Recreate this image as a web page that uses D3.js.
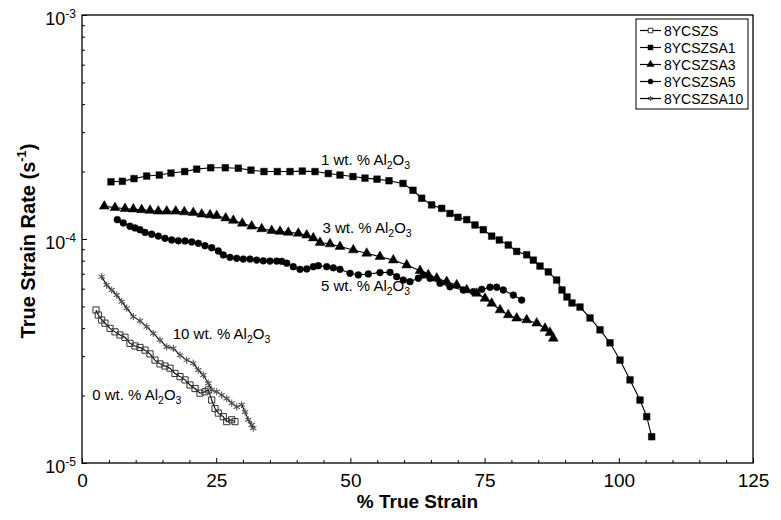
<!DOCTYPE html>
<html>
<head>
<meta charset="utf-8">
<script src="https://cdn.jsdelivr.net/npm/d3@7"></script>
<style>
  body { margin: 0; background: #fff; }
  svg { display: block; font-family: "Liberation Sans", Arial, sans-serif; }
</style>
</head>
<body>
<svg id="chart" width="781" height="520"></svg>
<script>
// ---- data (strain %, strain rate s^-1) ----
const seriesNames = ["8YCSZS", "8YCSZSA1", "8YCSZSA3", "8YCSZSA5", "8YCSZSA10"];

const zsStrain = [2.61,3.04,3.67,4.28,5.22,6.15,7.08,8.01,8.94,9.87,10.80,11.74,12.67,13.60,14.53,15.46,16.39,17.32,18.26,19.19,20.12,21.05,21.98,22.91,23.53,24.16,24.78,25.39,26.32,26.96,27.89,28.50];
const zsRate = [4.82e-5,4.58e-5,4.35e-5,4.21e-5,3.99e-5,3.85e-5,3.73e-5,3.64e-5,3.42e-5,3.33e-5,3.28e-5,3.19e-5,3.07e-5,2.88e-5,2.77e-5,2.71e-5,2.65e-5,2.51e-5,2.43e-5,2.35e-5,2.23e-5,2.15e-5,2.05e-5,2.08e-5,2.12e-5,1.91e-5,1.75e-5,1.67e-5,1.61e-5,1.53e-5,1.56e-5,1.53e-5];

const sa1Strain = [5.40,7.51,9.69,12.05,14.40,16.58,19.13,21.37,23.98,26.70,29.12,31.48,33.90,36.38,38.75,41.04,43.41,45.88,48.06,50.48,52.72,54.96,57.19,59.80,61.66,63.28,65.14,67.01,68.55,70.04,71.67,73.21,74.76,76.32,77.74,79.41,80.98,82.84,84.07,85.32,86.87,88.43,89.42,90.35,91.28,92.77,94.64,96.50,98.36,100.22,102.09,103.95,105.20,106.13];
const sa1Rate = [1.80e-4,1.81e-4,1.86e-4,1.91e-4,1.93e-4,1.97e-4,2.00e-4,2.05e-4,2.08e-4,2.08e-4,2.07e-4,2.03e-4,2.00e-4,2.00e-4,2.00e-4,2.01e-4,2.00e-4,1.96e-4,1.93e-4,1.90e-4,1.87e-4,1.85e-4,1.82e-4,1.77e-4,1.65e-4,1.52e-4,1.42e-4,1.37e-4,1.30e-4,1.25e-4,1.22e-4,1.155e-4,1.10e-4,1.03e-4,9.9e-5,9.4e-5,8.8e-5,8.5e-5,8.05e-5,7.57e-5,7.13e-5,6.56e-5,5.92e-5,5.51e-5,5.18e-5,4.97e-5,4.44e-5,3.93e-5,3.44e-5,2.88e-5,2.35e-5,1.91e-5,1.61e-5,1.31e-5];

const sa3Strain = [4.15,6.15,8.01,9.56,11.12,12.67,14.21,15.78,17.46,19.06,20.73,22.30,23.85,25.09,26.77,28.19,29.86,31.61,33.48,35.34,36.89,38.43,40.30,41.86,43.09,44.34,46.20,48.06,50.54,53.04,55.51,57.99,60.49,62.97,64.51,66.08,67.94,69.80,71.67,73.53,75.07,76.32,77.87,79.41,80.98,82.84,84.71,86.25,87.18,87.80];
const sa3Rate = [1.40e-4,1.38e-4,1.365e-4,1.36e-4,1.35e-4,1.34e-4,1.33e-4,1.33e-4,1.33e-4,1.32e-4,1.31e-4,1.29e-4,1.28e-4,1.27e-4,1.24e-4,1.21e-4,1.175e-4,1.14e-4,1.11e-4,1.09e-4,1.08e-4,1.07e-4,1.06e-4,1.04e-4,1.01e-4,9.64e-5,9.50e-5,9.25e-5,8.93e-5,8.63e-5,8.34e-5,8.05e-5,7.65e-5,7.22e-5,6.91e-5,6.68e-5,6.45e-5,6.23e-5,5.92e-5,5.72e-5,5.43e-5,5.16e-5,4.82e-5,4.58e-5,4.43e-5,4.35e-5,4.21e-5,3.99e-5,3.82e-5,3.60e-5];

const sa5Strain = [6.58,7.69,8.94,9.87,10.80,11.74,12.98,14.21,15.46,16.71,17.94,19.19,20.44,21.67,22.91,24.16,25.39,26.32,27.57,28.82,30.05,31.30,32.54,33.77,35.02,36.27,37.20,38.13,39.36,40.61,41.86,43.09,44.02,45.59,46.82,48.06,49.93,51.47,53.34,55.51,57.38,58.63,59.85,61.10,62.65,63.58,64.83,66.69,68.55,71.03,72.90,74.46,76.01,77.25,78.48,80.35,81.91];
const sa5Rate = [1.22e-4,1.18e-4,1.14e-4,1.12e-4,1.10e-4,1.07e-4,1.05e-4,1.03e-4,1.007e-4,9.90e-5,9.82e-5,9.80e-5,9.70e-5,9.57e-5,9.33e-5,9.14e-5,8.84e-5,8.49e-5,8.28e-5,8.20e-5,8.14e-5,8.14e-5,8.05e-5,7.99e-5,7.97e-5,7.97e-5,7.95e-5,7.80e-5,7.52e-5,7.32e-5,7.35e-5,7.52e-5,7.60e-5,7.52e-5,7.44e-5,7.32e-5,7.03e-5,6.91e-5,6.98e-5,7.08e-5,7.10e-5,6.79e-5,6.56e-5,6.45e-5,6.68e-5,6.91e-5,6.68e-5,6.34e-5,6.12e-5,5.92e-5,5.82e-5,5.96e-5,6.09e-5,6.09e-5,5.92e-5,5.62e-5,5.34e-5];

const sa10Strain = [3.67,4.60,5.53,6.46,7.40,8.33,9.56,10.80,12.05,13.28,14.53,15.78,17.01,18.26,19.50,20.73,21.67,22.60,23.53,24.16,25.09,26.02,26.96,27.89,28.82,29.75,30.37,30.98,31.61,31.91];
const sa10Rate = [6.79e-5,6.23e-5,5.92e-5,5.62e-5,5.25e-5,4.91e-5,4.50e-5,4.31e-5,4.06e-5,3.79e-5,3.54e-5,3.30e-5,3.25e-5,3.03e-5,2.88e-5,2.79e-5,2.60e-5,2.47e-5,2.27e-5,2.12e-5,2.08e-5,2.01e-5,1.94e-5,1.85e-5,1.78e-5,1.82e-5,1.69e-5,1.56e-5,1.48e-5,1.43e-5];

const xTicks = [0, 25, 50, 75, 100, 125];
const yTickExponents = [-5, -4, -3];
const annotationPct = ["1", "3", "5", "10", "0"];
const annotationStrain = [44.5, 44.8, 44.5, 16.9, 1.9];
const annotationRate = [2.14e-4, 1.06e-4, 5.85e-5, 3.58e-5, 1.91e-5];

// ---- layout ----
const L = 82, R = 753, T = 15, B = 463;
const FONT = "Liberation Sans, Arial, sans-serif";
const svg = d3.select("#chart");
const x = d3.scaleLinear().domain([0, 125]).range([L, R]);
const y = d3.scaleLog().domain([1e-5, 1e-3]).range([B, T]);

// frame
svg.append("rect").attr("x", L).attr("y", T).attr("width", R - L).attr("height", B - T)
  .attr("fill", "none").attr("stroke", "#000").attr("stroke-width", 1.3);

// x axis
const xMinor = d3.range(0, 126, 5).filter(v => v % 25 !== 0);
const gx = svg.append("g").attr("transform", `translate(0,${B})`);
gx.call(d3.axisBottom(x).tickValues(xTicks).tickSizeInner(-5).tickSizeOuter(0).tickPadding(11).tickFormat(d3.format("d")));
gx.select(".domain").remove();
gx.selectAll("text").attr("font-size", 19).attr("font-family", FONT).attr("fill", "#000");
gx.selectAll("line").attr("stroke", "#000");
const gxm = svg.append("g").attr("transform", `translate(0,${B})`);
gxm.call(d3.axisBottom(x).tickValues(xMinor).tickSizeInner(-3).tickSizeOuter(0).tickFormat(""));
gxm.select(".domain").remove();
gxm.selectAll("line").attr("stroke", "#000");

// y axis
const yMajor = yTickExponents.map(e => Math.pow(10, e));
const yMinor = [];
[-5, -4].forEach(e => { for (let k = 2; k <= 9; k++) yMinor.push(k * Math.pow(10, e)); });
const gy = svg.append("g").attr("transform", `translate(${L},0)`);
gy.call(d3.axisLeft(y).tickValues(yMajor).tickSizeInner(-5).tickSizeOuter(0).tickPadding(6).tickFormat(""));
gy.select(".domain").remove();
gy.selectAll("line").attr("stroke", "#000");
gy.selectAll(".tick").each(function(d) {
  const t = d3.select(this).select("text").text(null)
    .attr("font-size", 18).attr("fill", "#000").attr("x", -6).attr("dy", "0.5em")
    .attr("font-family", FONT);
  t.append("tspan").text("10");
  t.append("tspan").attr("font-size", 12).attr("dy", "-0.55em").text(String(Math.round(Math.log10(d))));
});
const gym = svg.append("g").attr("transform", `translate(${L},0)`);
gym.call(d3.axisLeft(y).tickValues(yMinor).tickSizeInner(-3).tickSizeOuter(0).tickFormat(""));
gym.select(".domain").remove();
gym.selectAll("line").attr("stroke", "#000");

// axis titles
svg.append("text").attr("x", (L + R) / 2).attr("y", 508).attr("text-anchor", "middle")
  .attr("font-size", 19).attr("font-weight", "bold").text("% True Strain");
const yt = svg.append("text").attr("transform", `translate(35,${(T + B) / 2 + 2}) rotate(-90)`)
  .attr("text-anchor", "middle").attr("font-size", 20).attr("font-weight", "bold");
yt.append("tspan").text("True Strain Rate (s");
yt.append("tspan").attr("font-size", 13).attr("dy", "-0.7em").text("-1");
yt.append("tspan").attr("dy", "0.45em").text(")");

// series
const lineGen = d3.line().x(d => x(d[0])).y(d => y(d[1]));
const series = [
  { name: seriesNames[0], xs: zsStrain, ys: zsRate, sym: d3.symbolSquare, size: 38, fill: "none", stroke: "#333", sw: 1 },
  { name: seriesNames[1], xs: sa1Strain, ys: sa1Rate, sym: d3.symbolSquare, size: 44, fill: "#000", stroke: "#000", sw: 0.5 },
  { name: seriesNames[2], xs: sa3Strain, ys: sa3Rate, sym: d3.symbolTriangle, size: 42, fill: "#000", stroke: "#000", sw: 0.5 },
  { name: seriesNames[3], xs: sa5Strain, ys: sa5Rate, sym: d3.symbolCircle, size: 36, fill: "#000", stroke: "#000", sw: 0.5 },
  { name: seriesNames[4], xs: sa10Strain, ys: sa10Rate, sym: d3.symbolAsterisk, size: 36, fill: "none", stroke: "#555", sw: 1.1 }
];
series.forEach(s => {
  const pts = s.xs.map((v, i) => [v, s.ys[i]]);
  svg.append("path").datum(pts).attr("d", lineGen).attr("fill", "none").attr("stroke", "#000").attr("stroke-width", 1.1);
  svg.append("g").selectAll("path").data(pts).join("path")
    .attr("transform", d => `translate(${x(d[0])},${y(d[1])})`)
    .attr("d", d3.symbol(s.sym, s.size))
    .attr("fill", s.fill).attr("stroke", s.stroke).attr("stroke-width", s.sw);
});

// annotations
annotationPct.forEach((p, i) => {
  const t = svg.append("text").attr("x", x(annotationStrain[i])).attr("y", y(annotationRate[i]))
    .attr("font-size", 15).attr("fill", "#000");
  t.append("tspan").text(p + " wt. % Al");
  t.append("tspan").attr("font-size", 10.5).attr("dy", 4).text("2");
  t.append("tspan").attr("dy", -4).text("O");
  t.append("tspan").attr("font-size", 10.5).attr("dy", 4).text("3");
});

// legend
const lg = svg.append("g");
lg.append("rect").attr("x", 636).attr("y", 19).attr("width", 112).attr("height", 90)
  .attr("fill", "#fff").attr("stroke", "#000").attr("stroke-width", 1);
series.forEach((s, i) => {
  const cy = 30.5 + i * 17;
  lg.append("line").attr("x1", 640).attr("x2", 661).attr("y1", cy).attr("y2", cy).attr("stroke", "#000").attr("stroke-width", 1.2);
  lg.append("path").attr("transform", `translate(650.5,${cy})`).attr("d", d3.symbol(s.sym, s.size * 0.55))
    .attr("fill", s.fill === "none" && s.sym === d3.symbolSquare ? "#fff" : s.fill)
    .attr("stroke", s.stroke).attr("stroke-width", s.sw);
  lg.append("text").attr("x", 664).attr("y", cy).attr("dy", "0.36em").attr("font-size", 14).text(s.name);
});
</script>
</body>
</html>
